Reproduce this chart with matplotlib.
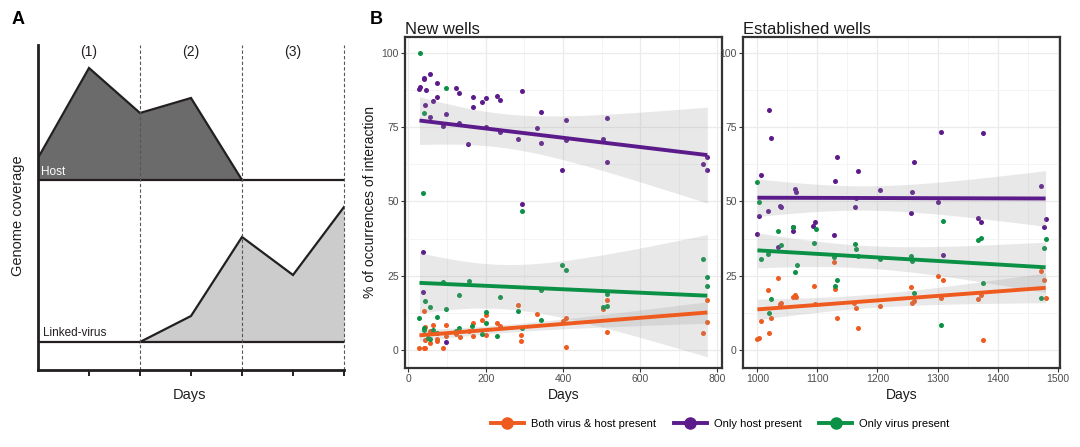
import matplotlib.pyplot as plt
import numpy as np
from matplotlib.lines import Line2D
from matplotlib.ticker import MultipleLocator

plt.rcParams['font.family'] = ['Liberation Sans', 'DejaVu Sans']

ORANGE = '#ef5a1e'
PURPLE = '#5c1b8a'
GREEN = '#0b9145'
INK = '#231f20'

# ---- Panel A: schematic coverage profile ----
host_x = [0, 1, 2, 3, 4]
host_y = [212, 302, 257, 272, 190]
host_base = 190
virus_x = [2, 3, 4, 5, 6]
virus_y = [28, 54, 133, 95, 163]
virus_base = 28
phase_bounds = [2, 4, 6]
phase_pos = [1, 3, 5]
phase_labels = ['(1)', '(2)', '(3)']

# ---- Panel B: new wells ----
new_host_x = [28.5, 29, 40, 41, 55, 73, 46, 42, 64, 74, 55, 98, 89, 122, 132, 132, 155, 166, 166, 191,
              200, 228, 238, 237, 200, 284, 293, 333, 342, 342, 398, 408, 408, 504, 513, 513, 764, 774,
              774, 293, 38, 38, 98]
new_host_y = [87.8, 88.6, 91.1, 91.6, 93.0, 89.8, 87.4, 82.3, 83.8, 85.2, 78.3, 79.5, 75.5, 88.0, 86.4,
              76.5, 69.4, 85.1, 81.6, 83.6, 84.9, 85.3, 84.0, 73.4, 74.9, 71.0, 87.0, 74.7, 80.1, 69.7,
              60.7, 77.4, 70.7, 70.9, 78.0, 63.4, 62.7, 60.6, 64.8, 49.2, 33.1, 19.6, 2.6]
new_virus_x = [29, 98, 39, 38, 293, 28.5, 89, 156, 42, 55, 98, 132, 238, 73, 40, 40, 64, 284, 200, 200,
               165, 132, 123, 191, 228, 50, 55, 73, 342, 342, 398, 408, 504, 513, 513, 764, 774, 774, 293]
new_virus_y = [100, 88, 79.9, 52.8, 46.9, 10.7, 22.9, 23.2, 16.4, 14.6, 13.9, 18.6, 17.8, 11.2, 7.6, 6.9,
               6.9, 13.0, 12.7, 9.0, 8.2, 7.6, 6.5, 5.3, 4.9, 4.2, 3.9, 5.7, 20.2, 10.0, 28.5, 27.1, 14.5,
               15.0, 18.8, 30.6, 24.7, 21.6, 7.3]
new_both_x = [28.5, 40, 42, 89, 40, 44, 64, 56, 74, 74, 55, 42, 98, 98, 122, 133, 166, 166, 156, 191,
              200, 200, 228, 238, 284, 292, 292, 333, 399, 409, 409, 504, 513, 513, 774, 774, 763]
new_both_y = [0.6, 0.6, 0.6, 0.8, 13.2, 7.9, 8.3, 6.4, 3.9, 3.0, 2.5, 3.4, 8.6, 4.7, 5.6, 4.3, 9.2, 4.9,
              6.3, 10.3, 11.7, 5.2, 9.2, 8.2, 15.1, 5.0, 3.1, 12.2, 9.8, 10.9, 1.1, 13.8, 16.8, 6.1, 16.8,
              9.6, 5.8]

# ---- Panel B: established wells ----
est_host_x = [1019, 1022, 1133, 1167, 1129, 1006, 1062, 1065, 1164, 1162, 1205, 1038, 1040, 1017, 1003,
              1000, 1060, 1060, 1093, 1096, 1127, 1035, 1260, 1472, 1257, 1301, 1255, 1367, 1373, 1480,
              1477, 1309, 1306, 1375]
est_host_y = [80.8, 71.3, 64.9, 60.3, 57.0, 58.9, 54.2, 53.1, 51.0, 48.0, 53.9, 48.5, 48.0, 46.7, 45.1,
              38.9, 40.1, 41.3, 41.7, 43.1, 38.7, 34.8, 63.4, 55.2, 53.2, 49.9, 46.2, 44.6, 43.1, 44.1,
              41.3, 32.1, 73.3, 72.9]
est_virus_x = [1000, 1003, 1035, 1060, 1097, 1094, 1162, 1164, 1040, 1017, 1006, 1127, 1066, 1063, 1133,
               1129, 1022, 1019, 1167, 1205, 1309, 1367, 1372, 1480, 1477, 1255, 1257, 1375, 1260, 1306,
               1472]
est_virus_y = [56.6, 49.8, 40.1, 41.3, 40.6, 36.0, 35.8, 34.0, 35.4, 32.3, 30.6, 31.4, 28.5, 26.2, 23.7,
               21.6, 17.1, 12.4, 31.5, 30.5, 43.4, 37.2, 37.6, 37.3, 34.2, 31.6, 30.0, 22.7, 19.3, 8.4,
               17.4]
est_both_x = [1035, 1017, 1094, 1129, 1127, 1060, 1063, 1065, 1037, 1040, 1096, 1161, 1164, 1205, 1006,
              1022, 1133, 1019, 1167, 1000, 1003, 1472, 1477, 1480, 1301, 1309, 1255, 1257, 1260, 1306,
              1367, 1372, 1375]
est_both_y = [24.2, 20.2, 21.5, 20.6, 29.8, 18.0, 18.5, 18.0, 15.5, 15.8, 15.5, 15.7, 14.2, 14.7, 9.8,
              10.7, 10.7, 5.8, 7.5, 3.6, 4.1, 26.6, 23.6, 17.6, 24.8, 23.7, 21.2, 16.0, 16.5, 17.4, 17.3,
              18.4, 3.5]

legend_labels = ['Both virus & host present', 'Only host present', 'Only virus present']


def lm_band(x, y, t=2.02):
    x = np.asarray(x, float)
    y = np.asarray(y, float)
    n = len(x)
    b, a = np.polyfit(x, y, 1)
    xs = np.linspace(x.min(), x.max(), 100)
    fit = a + b * xs
    s = np.sqrt(np.sum((y - (a + b * x)) ** 2) / (n - 2))
    sxx = np.sum((x - x.mean()) ** 2)
    se = s * np.sqrt(1 / n + (xs - x.mean()) ** 2 / sxx)
    return xs, fit, fit - t * se, fit + t * se


fig = plt.figure(figsize=(10.8, 4.47), dpi=100)

# ---------------- Panel A ----------------
axA = fig.add_axes([38 / 1080, 1 - 370 / 447, 306 / 1080, 325 / 447])
axA.fill_between(host_x, host_base, host_y, color='#6b6b6b', lw=0)
axA.plot(host_x, host_y, color=INK, lw=1.6, solid_joinstyle='miter')
axA.plot([0, 6], [host_base, host_base], color=INK, lw=1.6)
axA.fill_between(virus_x, virus_base, virus_y, color='#cccccc', lw=0)
axA.plot(virus_x, virus_y, color=INK, lw=1.6, solid_joinstyle='miter')
axA.plot([0, 6], [virus_base, virus_base], color=INK, lw=1.6)
axA.vlines(phase_bounds, 0, 325, colors='#555555', linestyles=(0, (3, 2)), lw=0.8, clip_on=False)
for p, lab in zip(phase_pos, phase_labels):
    axA.text(p, 318, lab, ha='center', va='center', fontsize=10, color=INK)
axA.text(0.06, 198, 'Host', color='white', fontsize=8.5, va='center')
axA.text(0.1, 37, 'Linked-virus', color=INK, fontsize=8.5, va='center')
axA.set_xlim(0, 6)
axA.set_ylim(0, 325)
axA.set_xticks([1, 2, 3, 4, 5, 6])
axA.set_xticklabels([])
axA.set_yticks([])
axA.tick_params(axis='x', direction='out', length=4, width=1.4, color=INK)
for side in ['top', 'right']:
    axA.spines[side].set_visible(False)
for side in ['left', 'bottom']:
    axA.spines[side].set_linewidth(2)
    axA.spines[side].set_color(INK)
fig.text(18 / 1080, 1 - 216 / 447, 'Genome coverage', rotation=90, ha='center', va='center',
         fontsize=10.5, color=INK)
fig.text(190 / 1080, 1 - 395 / 447, 'Days', ha='center', va='center', fontsize=10.5, color=INK)
fig.text(12 / 1080, 1 - 20 / 447, 'A', fontsize=13, fontweight='bold', va='center')
fig.text(370 / 1080, 1 - 20 / 447, 'B', fontsize=13, fontweight='bold', va='center')

# ---------------- Panel B ----------------
axL = fig.add_axes([405 / 1080, 1 - 368 / 447, 317 / 1080, 331 / 447])
axR = fig.add_axes([743 / 1080, 1 - 368 / 447, 317 / 1080, 331 / 447])

panels = [
    (axL, 'New wells', [(new_both_x, new_both_y, ORANGE), (new_host_x, new_host_y, PURPLE),
                        (new_virus_x, new_virus_y, GREEN)], (-9, 812), 200, 100),
    (axR, 'Established wells', [(est_both_x, est_both_y, ORANGE), (est_host_x, est_host_y, PURPLE),
                                (est_virus_x, est_virus_y, GREEN)], (976, 1504), 100, 50),
]

for ax, title, series, xlim, major, minor in panels:
    for x, y, c in series:
        ax.scatter(x, y, s=13, color=c, lw=0, zorder=2)
    for x, y, c in series:
        xs, fit, lo, hi = lm_band(x, y)
        ax.fill_between(xs, lo, hi, color='#9a9a9a', alpha=0.22, lw=0, zorder=3)
        ax.plot(xs, fit, color=c, lw=2.8, zorder=4, solid_capstyle='butt')
    ax.set_xlim(*xlim)
    ax.set_ylim(-6, 105.3)
    ax.xaxis.set_major_locator(MultipleLocator(major))
    ax.xaxis.set_minor_locator(MultipleLocator(minor))
    ax.set_yticks([0, 25, 50, 75, 100])
    ax.yaxis.set_minor_locator(MultipleLocator(12.5))
    ax.grid(which='major', color='#ebebeb', lw=0.9, zorder=0)
    ax.grid(which='minor', color='#f3f3f3', lw=0.6, zorder=0)
    ax.set_axisbelow(True)
    ax.tick_params(which='major', direction='out', length=3, width=0.8, color='#333333',
                   labelsize=7.5, labelcolor='#4d4d4d', pad=1.5)
    ax.tick_params(which='minor', length=0)
    for sp in ax.spines.values():
        sp.set_linewidth(1.6)
        sp.set_color('#333333')
    ax.set_title(title, loc='left', fontsize=12, pad=2, color='#1a1a1a')
    ax.set_xlabel('Days', fontsize=10, labelpad=3, color='#1a1a1a')

axL.set_ylabel('% of occurrences of interaction', fontsize=10, labelpad=3, color='#1a1a1a')

handles = [Line2D([], [], color=c, lw=2.8, marker='o', markersize=8)
           for c in [ORANGE, PURPLE, GREEN]]
fig.legend(handles, legend_labels, loc='center', bbox_to_anchor=(720 / 1080, 1 - 424 / 447), ncol=3,
           frameon=False, fontsize=8, handlelength=3.0, handletextpad=0.6, columnspacing=1.6)

fig.savefig('out.png', dpi=100)
